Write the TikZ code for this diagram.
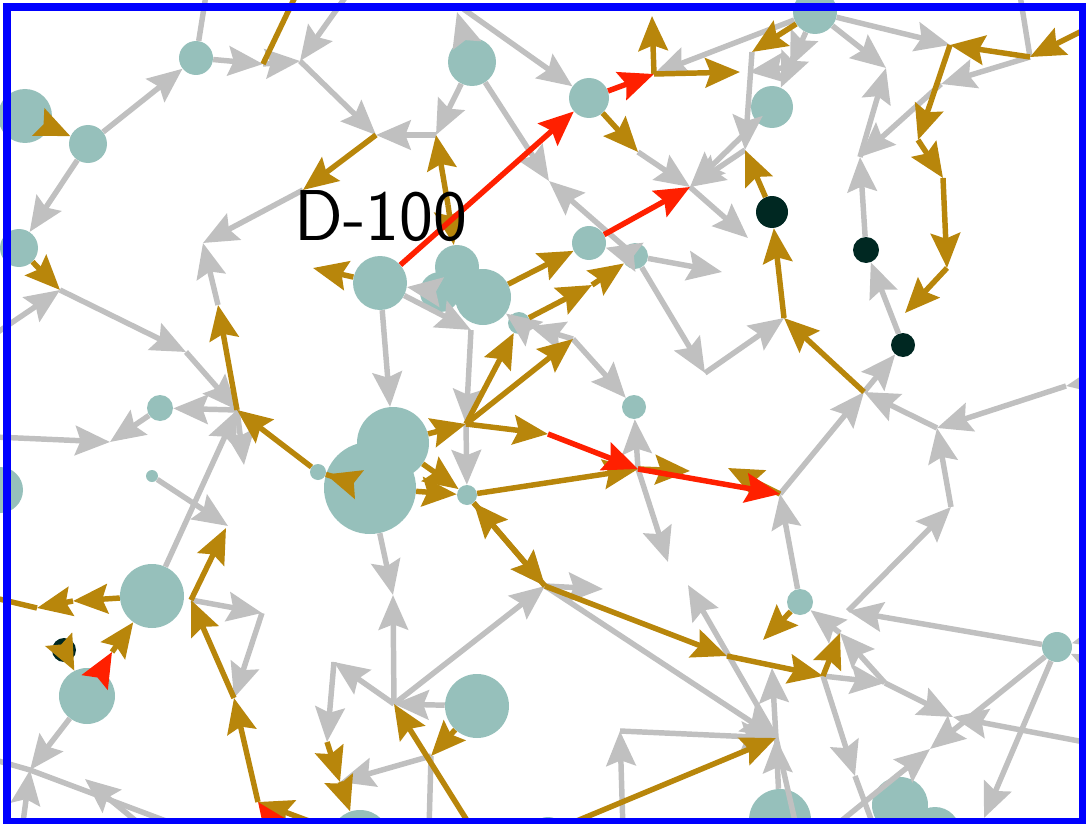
\documentclass[tikz,border=0pt]{standalone}
\usepackage{fontspec}
\usetikzlibrary{arrows.meta}
\definecolor{tealn}{RGB}{150,192,187}
\definecolor{darkn}{RGB}{0,40,34}
\definecolor{grayE}{RGB}{192,192,192}
\definecolor{goldE}{RGB}{184,134,11}
\definecolor{redE}{RGB}{255,32,0}
\begin{document}
\begin{tikzpicture}[x=0.75pt,y=-0.75pt,
  tn/.style={circle,fill=tealn,inner sep=0pt,minimum size=#1*1.5pt},
  dn/.style={circle,fill=darkn,inner sep=0pt,minimum size=#1*1.5pt},
  tip/.style={-{Stealth[length=26pt,width=22pt,inset=4pt]}},
  ge/.style={draw=grayE,line width=4.1pt,tip},
  oe/.style={draw=goldE,line width=4.1pt,tip},
  re/.style={draw=redE,line width=4.1pt,tip},
  lab/.style={inner sep=0pt,font=\fontsize{54}{56}\selectfont\sffamily}]
\useasboundingbox (0,0) rectangle (1086,824);
\clip (0,0) rectangle (1086,824);
% teal nodes
\node[tn=27] (n25) at (25,116) {};
\node[tn=19] (n88) at (88,144) {};
\node[tn=17] (n195) at (196,58) {};
\node[tn=19] (n21) at (19,248) {};
\node[tn=24] (n470) at (472,62) {};
\node[tn=20] (n589) at (589,98) {};
\node[tn=22] (n816) at (815,12) {};
\node[tn=21] (n772) at (772,107) {};
\node[tn=17] (n588) at (589,243) {};
\node[tn=13] (n635) at (635,256) {};
\node[tn=27] (n381) at (380,283) {};
\node[tn=22] (n457) at (457,267) {};
\node[tn=20] (n440) at (440,292) {};
\node[tn=28] (n483) at (483,297) {};
\node[tn=11] (n519) at (519,323) {};
\node[tn=12] (n633) at (634,407) {};
\node[tn=13] (n160) at (160,408) {};
\node[tn=36] (n393) at (393,443) {};
\node[tn=46] (n370) at (370,488) {};
\node[tn=8] (n318) at (318,472) {};
\node[tn=6] (n151) at (152,476) {};
\node[tn=10] (n466) at (467,495) {};
\node[tn=23] (n0) at (0,490) {};
\node[tn=32] (n153) at (152,596) {};
\node[tn=13] (n800) at (800,602) {};
\node[tn=28] (n87) at (87,696) {};
\node[tn=32] (n476) at (477,706) {};
\node[tn=15] (n1057) at (1057,647) {};
\node[tn=31] (n780) at (780,820) {};
\node[tn=28] (n900) at (900,805) {};
\node[tn=25] (n935) at (935,832) {};
\node[tn=30] (n360) at (360,840) {};
\node[tn=18] (n548) at (548,835) {};
% dark nodes
\node[dn=16] (d771) at (772,212) {};
\node[dn=13] (d866) at (866,250) {};
\node[dn=12] (d903) at (903,345) {};
\node[dn=12] (d63) at (64,650) {};
% junction points
\coordinate (P1) at (263,64); \coordinate (P2) at (300,61);
\coordinate (P3) at (376,135); \coordinate (P4) at (303,190);
\coordinate (P5) at (203,243); \coordinate (P6) at (218,305);
\coordinate (P7) at (436,135); \coordinate (P8) at (448,205);
\coordinate (Q1) at (549,181); \coordinate (Q2) at (638,152);
\coordinate (Q3) at (690,187); \coordinate (Q4) at (745,150);
\coordinate (Q5) at (748,238);
\coordinate (R1) at (654,74); \coordinate (R2) at (652,16); \coordinate (R3) at (740,72);
\coordinate (T1) at (752,52); \coordinate (T2) at (790,67); \coordinate (T3) at (749,72);
\coordinate (S1) at (860,157); \coordinate (S2) at (886,68); \coordinate (S3) at (950,45);
\coordinate (S4) at (1030,57); \coordinate (S5) at (941,84); \coordinate (S7) at (918,140);
\coordinate (S8) at (943,178); \coordinate (S9) at (947,268); \coordinate (S10) at (905,313);
\coordinate (U1) at (784,318); \coordinate (U2) at (864,392); \coordinate (U3) at (705,373);
\coordinate (U5) at (937,428); \coordinate (U6) at (1066,386); \coordinate (U7) at (951,507);
\coordinate (U8) at (780,494); \coordinate (L1) at (722,272); \coordinate (K1) at (313,268);
\coordinate (W1) at (592,285); \coordinate (W2) at (573,339);
\coordinate (X1) at (466,424); \coordinate (X2) at (471,330); \coordinate (X3) at (548,434);
\coordinate (X4) at (638,469); \coordinate (X5) at (690,471); \coordinate (X6) at (728,468);
\coordinate (Y1) at (668,562);
\coordinate (Z1) at (545,586); \coordinate (Z2) at (727,656); \coordinate (Z3) at (776,738);
\coordinate (Z4) at (394,704); \coordinate (Z5) at (431,756); \coordinate (Z6) at (473,830);
\coordinate (Z7) at (393,595); \coordinate (Z8) at (334,662); \coordinate (Z9) at (327,742);
\coordinate (Z10) at (340,782); \coordinate (Z11) at (603,589);
\coordinate (B1) at (258,802); \coordinate (B2) at (234,698); \coordinate (B3) at (191,600);
\coordinate (B4) at (262,613); \coordinate (B5) at (226,528);
\coordinate (C1) at (237,410); \coordinate (C3) at (186,352); \coordinate (C5) at (244,465);
\coordinate (C7) at (60,290);
\coordinate (D1) at (110,442); \coordinate (D2) at (228,526);
\coordinate (E1) at (73,601); \coordinate (E2) at (37,608); \coordinate (E3) at (112,652);
\coordinate (E4) at (30,770);
\coordinate (F1) at (147,830); \coordinate (F2) at (85,779);
\coordinate (G1) at (763,640); \coordinate (G2) at (848,611); \coordinate (G3) at (840,633);
\coordinate (G4) at (823,676); \coordinate (G5) at (885,683); \coordinate (G6) at (953,717);
\coordinate (G7) at (930,749); \coordinate (G9) at (855,776); \coordinate (G10) at (984,818);
\coordinate (H2) at (772,668); \coordinate (H3) at (688,585);
\coordinate (J1) at (620,731); \coordinate (J2) at (623,830); \coordinate (J3) at (555,830);
% outside ends
\coordinate (o1) at (206,-5); \coordinate (o2) at (347,-5); \coordinate (o3) at (-5,334);
\coordinate (o4) at (-5,437); \coordinate (o5) at (-5,760); \coordinate (o6) at (190,830);
\coordinate (o7) at (22,830); \coordinate (o8) at (457,12); \coordinate (o9) at (462,8);
\coordinate (o10) at (1020,-5); \coordinate (o11) at (1100,380); \coordinate (o12) at (1100,745);
\coordinate (o13) at (830,830); \coordinate (o14) at (1100,636); \coordinate (o15) at (1100,668);
\coordinate (o16) at (875,830); \coordinate (o17) at (797,830); \coordinate (o18) at (429,830);
\coordinate (o19) at (296,-5); \coordinate (o20) at (-5,598); \coordinate (o21) at (1100,22);
\coordinate (o22) at (278,830);
% gray edges
\draw[ge,-] (o1) -- (n195);
\draw[ge] (n195) -- (P1);
\draw[ge] (P1) -- (P2);
\draw[ge] (o2) -- (P2);
\draw[ge] (P2) -- (P3);
\draw[ge] (P7) -- (P3);
\draw[ge] (n470) -- (P7);
\draw[ge] (P4) -- (P5);
\draw[ge] (P6) -- (P5);
\draw[ge] (n88) -- (n195);
\draw[ge] (n88) -- (n21);
\draw[ge] (C7) -- (C3);
\draw[ge] (o3) -- (C7);
\draw[ge] (C3) -- (C1);
\draw[ge] (C1) -- (C5);
\draw[ge] (C1) -- (n160);
\draw[ge] (n160) -- (D1);
\draw[ge] (o4) -- (D1);
\draw[ge] (n151) -- (D2);
\draw[ge] (n153) -- (C1);
\draw[ge] (n440) -- (n381);
\draw[ge] (n381) -- (X2);
\draw[ge] (X2) -- (X1);
\draw[ge] (n381) -- (n393);
\draw[ge] (n519) -- (n483);
\draw[ge] (W2) -- (n519);
\draw[ge] (W2) -- (n633);
\draw[ge] (X1) -- (n466);
\draw[ge] (X4) -- (Y1);
\draw[ge] (X4) -- (n633);
\draw[ge] (n466) -- (Z1);
\draw[ge] (Z1) -- (Z11);
\draw[ge] (Z1) -- (Z3);
\draw[ge] (Z4) -- (Z1);
\draw[ge] (n476) -- (Z4);
\draw[ge] (Z5) -- (Z10);
\draw[ge,-] (Z5) -- (o18);
\draw[ge] (Z4) -- (Z7);
\draw[ge] (n370) -- (Z7);
\draw[ge] (Z4) -- (Z8);
\draw[ge] (Z8) -- (Z9);
\draw[ge] (B3) -- (B4);
\draw[ge] (B4) -- (B2);
\draw[ge] (n87) -- (E4);
\draw[ge,-] (o5) -- (E4) -- (o6);
\draw[ge] (F1) -- (F2);
\draw[ge] (o7) -- (E4);
\draw[ge] (n470) -- (o8);
\draw[ge] (o9) -- (n589);
\draw[ge] (n470) -- (Q1);
\draw[ge] (n635) -- (Q1);
\draw[ge] (n635) -- (n588);
\draw[ge] (n635) -- (L1);
\draw[ge] (Q2) -- (Q3);
\draw[ge] (Q3) -- (Q5);
\draw[ge] (n772) -- (Q3);
\draw[ge] (Q4) -- (Q3);
\draw[ge] (n816) -- (R1);
\draw[ge] (n816) -- (T2);
\draw[ge] (T2) -- (T3);
\draw[ge] (T2) -- (n772);
\draw[ge] (T1) -- (Q4);
\draw[ge] (n816) -- (S2);
\draw[ge] (S1) -- (S2);
\draw[ge] (n816) -- (S3);
\draw[ge,-] (o10) -- (S4);
\draw[ge] (S4) -- (S5);
\draw[ge] (S5) -- (S1);
\draw[ge] (d866) -- (S1);
\draw[ge] (n635) -- (U3);
\draw[ge] (U3) -- (U1);
\draw[ge] (U2) -- (d903);
\draw[ge] (d903) -- (d866);
\draw[ge] (U5) -- (U2);
\draw[ge] (o11) -- (U6);
\draw[ge] (U6) -- (U5);
\draw[ge] (U7) -- (U5);
\draw[ge] (G2) -- (U7);
\draw[ge] (U8) -- (U2);
\draw[ge] (n800) -- (U8);
\draw[ge] (n1057) -- (G2);
\draw[ge] (G3) -- (n800);
\draw[ge] (G4) -- (G5);
\draw[ge] (G5) -- (G3);
\draw[ge] (G5) -- (G6);
\draw[ge] (o12) -- (G6);
\draw[ge] (n1057) -- (G7);
\draw[ge] (o13) -- (G7);
\draw[ge] (n1057) -- (G10);
\draw[ge] (o14) -- (n1057);
\draw[ge] (o15) -- (n1057);
\draw[ge] (G4) -- (G9);
\draw[ge,-] (G9) -- (o16);
\draw[ge] (Z3) -- (H3);
\draw[ge] (Z3) -- (H2);
\draw[ge] (J2) -- (J1);
\draw[ge] (J1) -- (Z3);
\draw[ge] (n780) -- (Z3);
\draw[ge,-] (Z3) -- (o17);
% gold edges
\draw[oe,-] (o19) -- (P1);
\draw[oe] (P3) -- (P4);
\draw[oe] (n25) -- (n88);
\draw[oe] (n21) -- (C7);
\draw[oe] (P8) -- (P7);
\draw[oe] (P8) -- (n457);
\draw[oe] (C1) -- (P6);
\draw[oe] (n318) -- (C1);
\draw[oe] (n318) -- (n370);
\draw[oe] (n381) -- (K1);
\draw[oe] (n483) -- (n588);
\draw[oe] (n519) -- (W1);
\draw[oe] (W1) -- (n635);
\draw[oe] (X1) -- (W2);
\draw[oe] (X1) -- (n519);
\draw[oe] (n393) -- (X1);
\draw[oe] (X1) -- (X3);
\draw[oe] (n466) -- (X4);
\draw[oe] (X4) -- (X5);
\draw[oe] (U8) -- (X6);
\draw[oe] (n393) -- (n466);
\draw[oe] (n370) -- (n466);
\draw[oe] (Z1) -- (n466);
\draw[oe] (n466) -- (Z1);
\draw[oe] (Z1) -- (Z2);
\draw[oe] (Z2) -- (G4);
\draw[oe] (G4) -- (G3);
\draw[oe] (n800) -- (G1);
\draw[oe] (J3) -- (Z3);
\draw[oe] (n476) -- (Z5);
\draw[oe] (Z6) -- (Z4);
\draw[oe] (Z9) -- (Z10);
\draw[oe] (Z10) -- (n360);
\draw[oe] (n360) -- (B1);
\draw[oe] (B1) -- (B2);
\draw[oe] (B2) -- (B3);
\draw[oe] (B3) -- (B5);
\draw[oe] (n153) -- (E1);
\draw[oe] (E1) -- (E2);
\draw[oe,-] (o20) -- (E2);
\draw[oe] (E3) -- (n153);
\draw[oe] (d63) -- (n87);
\draw[oe] (R1) -- (R2);
\draw[oe] (R1) -- (R3);
\draw[oe] (n589) -- (Q2);
\draw[oe] (d771) -- (Q4);
\draw[oe] (U1) -- (d771);
\draw[oe] (U2) -- (U1);
\draw[oe] (n816) -- (T1);
\draw[oe] (S4) -- (S3);
\draw[oe] (o21) -- (S4);
\draw[oe] (S3) -- (S7);
\draw[oe] (S7) -- (S8);
\draw[oe] (S8) -- (S9);
\draw[oe] (S9) -- (S10);
% red edges
\draw[re] (n381) -- (n589);
\draw[re] (n589) -- (R1);
\draw[re] (n588) -- (Q3);
\draw[re] (X3) -- (X4);
\draw[re] (X4) -- (U8);
\draw[re] (n87) -- (E3);
\draw[re] (o22) -- (B1);
% label
\node[lab] (lbl) at (381,216) {D-100};
% frame
\draw[blue,line width=6pt] (7,7.5) rectangle (1083,822);
\end{tikzpicture}
\end{document}
